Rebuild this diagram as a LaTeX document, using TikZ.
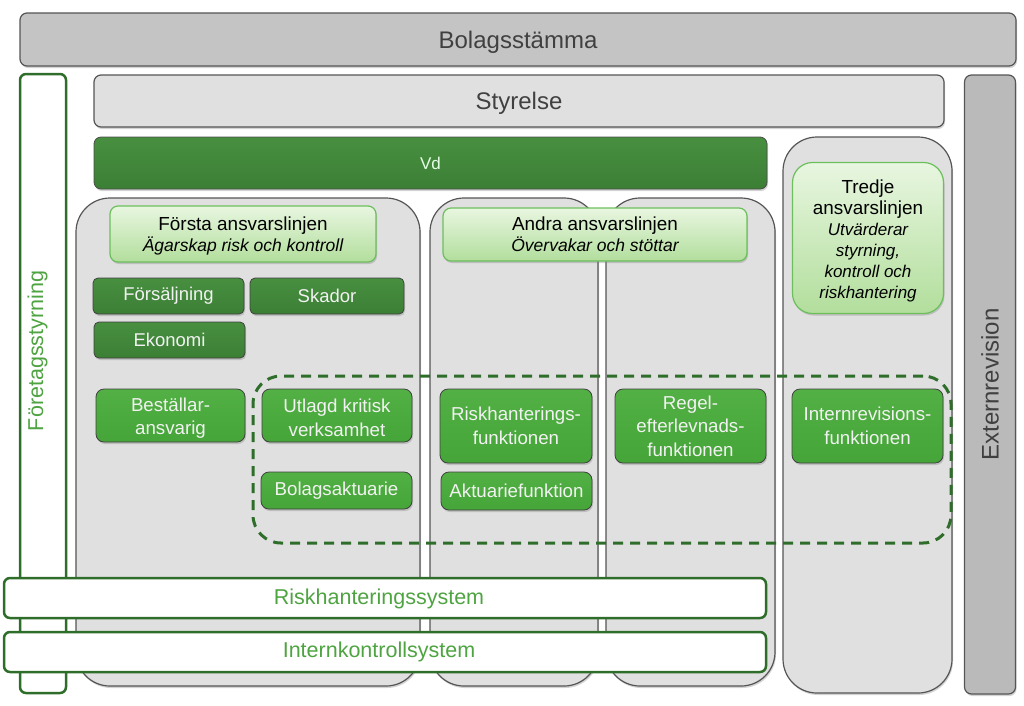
\documentclass[tikz,border=0pt]{standalone}
\usepackage{fontspec}
\setmainfont{Liberation Sans}
\usetikzlibrary{shadows}
\definecolor{barA}{HTML}{C4C4C4}
\definecolor{barB}{HTML}{E0E0E0}
\definecolor{colfill}{HTML}{E0E0E0}
\definecolor{edgegray}{HTML}{555555}
\definecolor{darkgreen}{HTML}{3B7F35}
\definecolor{darkgreenT}{HTML}{488F40}
\definecolor{brightgreen}{HTML}{45A538}
\definecolor{brightgreenT}{HTML}{52B044}
\definecolor{hdrtop}{HTML}{E8F6E0}
\definecolor{hdrbot}{HTML}{B2DE9C}
\definecolor{hdredge}{HTML}{6CBF5C}
\definecolor{linegreen}{HTML}{2F6E2A}
\definecolor{textgreen}{HTML}{4FA442}
\definecolor{textgray}{HTML}{404040}
\begin{document}
\begin{tikzpicture}[x=1pt,y=-1pt,
  shad/.style={drop shadow={shadow xshift=1pt,shadow yshift=-2pt,opacity=0.35}},
  graybar/.style={shad,draw=edgegray,line width=1.2pt,rounded corners=7pt,inner sep=0pt,text=textgray,text depth=0pt,font=\fontsize{24}{28}\selectfont},
  column/.style={shad,fill=colfill,draw=edgegray,line width=1.2pt,rounded corners=34pt,inner sep=0pt},
  darkbox/.style={shad,top color=darkgreenT,bottom color=darkgreen,draw=black!75,line width=0.8pt,rounded corners=5pt,inner sep=0pt,text=white!95!black,align=center,font=\fontsize{18.5}{23}\selectfont},
  brightbox/.style={shad,top color=brightgreenT,bottom color=brightgreen,draw=black!75,line width=0.8pt,rounded corners=8pt,inner sep=0pt,text=white!95!black,align=center,font=\fontsize{18.7}{23.5}\selectfont},
  header/.style={shad,top color=hdrtop,bottom color=hdrbot,draw=hdredge,line width=1.2pt,rounded corners=8pt,inner sep=0pt,align=center,font=\fontsize{18.9}{21}\selectfont},
  greenbar/.style={fill=white,draw=linegreen,line width=2.5pt,rounded corners=6pt,inner sep=0pt},
  greentext/.style={text=textgreen,font=\fontsize{21.5}{25}\selectfont},
  dashbox/.style={draw=linegreen,line width=3pt,dash pattern=on 10pt off 7pt,rounded corners=28pt,inner sep=0pt}
]
\useasboundingbox (0,0) rectangle (1024,705);
% top bars
\node[graybar,fill=barA,minimum width=996pt,minimum height=53pt] (bolag) at (518,39.5) {Bolagsstämma};
\node[greenbar,minimum width=46pt,minimum height=619pt] (ftgbox) at (43,383.5) {};
\node[rotate=90,greentext] (ftgtext) at (37.5,351) {Företagsstyrning};
\node[graybar,fill=barB,minimum width=850pt,minimum height=52pt] (styr) at (519,101) {Styrelse};
\node[graybar,fill=barA!95!black,minimum width=51pt,minimum height=619pt] (extbox) at (990,384.5) {};
\node[rotate=90,text=textgray,font=\fontsize{24}{28}\selectfont] (exttext) at (990,384.5) {Externrevision};
\node[shad,top color=darkgreenT,bottom color=darkgreen,draw=black!70,line width=0.8pt,rounded corners=7pt,inner sep=0pt,minimum width=673pt,minimum height=52pt,text=white!90!green,font=\fontsize{17}{20}\selectfont] (vd) at (430.5,163) {Vd};
% columns
\node[column,minimum width=344pt,minimum height=488pt] (col1) at (248,442) {};
\node[column,minimum width=168pt,minimum height=488pt] (col2) at (514,442) {};
\node[column,minimum width=169pt,minimum height=488pt] (col3) at (690.5,442) {};
\node[column,minimum width=169pt,minimum height=556pt] (col4) at (867.5,415) {};
% headers
\node[header,minimum width=266pt,minimum height=56pt] (first) at (243,234) {\rule{0pt}{17pt}Första ansvarslinjen\\{\itshape\fontsize{17.5}{21}\selectfont Ägarskap risk och kontroll}};
\node[header,minimum width=304pt,minimum height=53pt] (second) at (595,234.5) {Andra ansvarslinjen\\{\itshape\fontsize{17.5}{21}\selectfont Övervakar och stöttar}};
\node[header,rounded corners=20pt,minimum width=151pt,minimum height=151pt] (third) at (868,238) {\rule{0pt}{19pt}Tredje\\ansvarslinjen\\{\itshape\fontsize{17}{21}\selectfont Utvärderar}\\{\itshape\fontsize{17}{21}\selectfont styrning,}\\{\itshape\fontsize{17}{21}\selectfont kontroll och}\\{\itshape\fontsize{17}{21}\selectfont riskhantering}};
% dark boxes
\node[darkbox,minimum width=151pt,minimum height=36pt] (sales) at (168.5,296) {Försäljning};
\node[darkbox,minimum width=154pt,minimum height=36pt] (claims) at (327,296) {Skador};
\node[darkbox,minimum width=151pt,minimum height=36pt] (econ) at (169.5,340) {Ekonomi};
% dashed group
\node[dashbox,minimum width=698pt,minimum height=167pt] (group) at (602,459.5) {};
% bright boxes
\node[brightbox,minimum width=149pt,minimum height=53pt] (order) at (170.5,415.5) {\rule{0pt}{19pt}Beställar-\\ansvarig};
\node[brightbox,minimum width=150pt,minimum height=53pt] (outs) at (337,415.5) {\rule{0pt}{18pt}Utlagd kritisk\\verksamhet};
\node[brightbox,minimum width=151pt,minimum height=37pt] (actco) at (336.5,490.5) {Bolagsaktuarie};
\node[brightbox,minimum width=152pt,minimum height=74pt] (riskf) at (516,426) {Riskhanterings-\\funktionen};
\node[brightbox,minimum width=151pt,minimum height=38pt] (actf) at (516.5,491) {Aktuariefunktion};
\node[brightbox,minimum width=151pt,minimum height=74pt] (compl) at (690.5,426) {Regel-\\efterlevnads-\\funktionen};
\node[brightbox,minimum width=151pt,minimum height=74pt] (audit) at (867.5,426) {Internrevisions-\\funktionen};
% bottom bars
\node[greenbar,minimum width=762pt,minimum height=40pt] (risksys) at (385,598) {};
\node[greentext] (risksyst) at (379,599) {Riskhanteringssystem};
\node[greenbar,minimum width=762pt,minimum height=40pt] (ics) at (385,652) {};
\node[greentext] (icst) at (379,652) {Internkontrollsystem};
\end{tikzpicture}
\end{document}
